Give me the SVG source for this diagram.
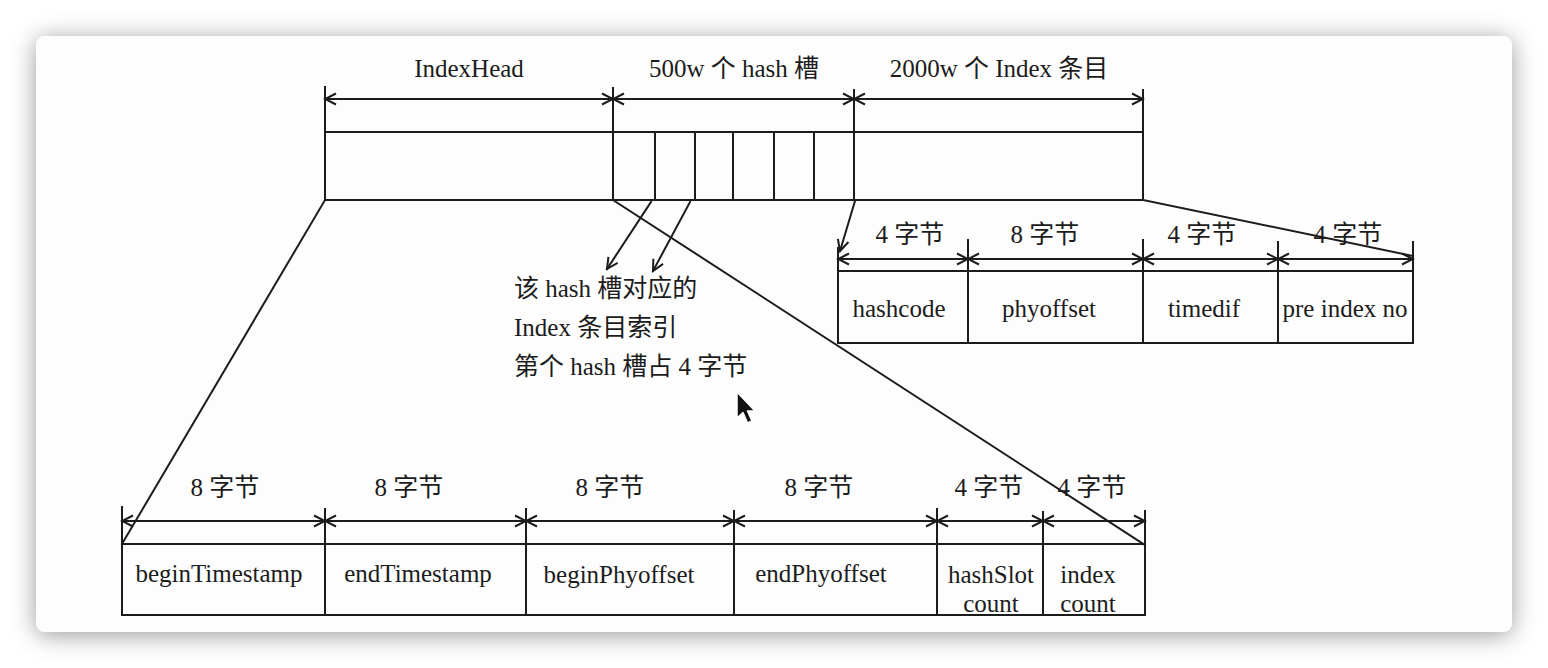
<svg xmlns="http://www.w3.org/2000/svg" width="1548" height="668" viewBox="0 0 1548 668">
<style>
.ln{stroke:#1c1c1c;stroke-width:2;fill:none;stroke-linecap:square}
.dm{stroke:#1c1c1c;stroke-width:2;fill:none;marker-start:url(#ah);marker-end:url(#ah)}
.t{font-family:"Liberation Serif","Noto Sans CJK SC",serif;font-size:25px;fill:#1c1c1c}
.c{text-anchor:middle}
</style>
<defs>
<filter id="sh" x="-5%" y="-10%" width="110%" height="120%">
<feDropShadow dx="0" dy="3" stdDeviation="12" flood-color="#000" flood-opacity="0.4"/>
</filter>
<marker id="ah" viewBox="-13 -7 15 14" refX="0" refY="0" markerWidth="15" markerHeight="14" orient="auto-start-reverse" markerUnits="userSpaceOnUse">
<path d="M-11,-5.5 L0,0 L-11,5.5" fill="none" stroke="#1c1c1c" stroke-width="2"/>
</marker>
</defs>
<rect width="1548" height="668" fill="#ffffff"/>
<rect x="36" y="36" width="1476" height="596" rx="9" fill="#fdfdfd" filter="url(#sh)"/>

<g id="index-file">
<path class="ln" d="M325,87 V200 H1143 V90 M325,132 H1143 M613,88 V200 M655,132 V200 M695,132 V200 M733,132 V200 M774,132 V200 M814,132 V200 M854,90 V200"/>
<text class="t c" x="469" y="77">IndexHead</text>
<text class="t c" x="734" y="77">500w 个 hash 槽</text>
<text class="t c" x="999" y="77">2000w 个 Index 条目</text>
</g>

<g id="index-entry">
<path class="ln" d="M838,248 V343 H1413 V242 M838,271 H1413 M968,240 V343 M1143,240 V343 M1278,242 V343"/>
<text class="t c" x="910" y="243">4 字节</text>
<text class="t c" x="1045" y="243">8 字节</text>
<text class="t c" x="1202" y="243">4 字节</text>
<text class="t c" x="1348" y="243">4 字节</text>
<text class="t c" x="899" y="317">hashcode</text>
<text class="t c" x="1049" y="317">phyoffset</text>
<text class="t c" x="1204" y="317">timedif</text>
<text class="t c" x="1345" y="317">pre index no</text>
</g>

<g id="index-header">
<path class="ln" d="M122,507 V615 H1145 V511 M122,544 H1145 M325,509 V615 M526,509 V615 M734,511 V615 M937,509 V615 M1043,512 V615"/>
<text class="t c" x="225" y="496">8 字节</text>
<text class="t c" x="409" y="496">8 字节</text>
<text class="t c" x="610" y="496">8 字节</text>
<text class="t c" x="819" y="496">8 字节</text>
<text class="t c" x="989" y="496">4 字节</text>
<text class="t c" x="1092" y="496">4 字节</text>
<text class="t c" x="219" y="582">beginTimestamp</text>
<text class="t c" x="418" y="582">endTimestamp</text>
<text class="t c" x="619" y="583">beginPhyoffset</text>
<text class="t c" x="821" y="582">endPhyoffset</text>
<text class="t c" x="991" y="583">hashSlot</text>
<text class="t c" x="991" y="612">count</text>
<text class="t c" x="1088" y="583">index</text>
<text class="t c" x="1088" y="612">count</text>
</g>

<g id="hash-note">
<text class="t" x="514" y="297">该 hash 槽对应的</text>
<text class="t" x="514" y="336">Index 条目索引</text>
<text class="t" x="514" y="375">第个 hash 槽占 4 字节</text>
</g>

<g id="dimensions">
<line class="dm" x1="325" y1="99" x2="613" y2="99"/>
<line class="dm" x1="613" y1="99" x2="854" y2="99"/>
<line class="dm" x1="854" y1="99" x2="1143" y2="99"/>
<line class="dm" x1="838" y1="259" x2="968" y2="259"/>
<line class="dm" x1="968" y1="259" x2="1143" y2="259"/>
<line class="dm" x1="1143" y1="259" x2="1278" y2="259"/>
<line class="dm" x1="1278" y1="259" x2="1413" y2="259"/>
<line class="dm" x1="122" y1="521" x2="325" y2="521"/>
<line class="dm" x1="325" y1="521" x2="526" y2="521"/>
<line class="dm" x1="526" y1="521" x2="734" y2="521"/>
<line class="dm" x1="734" y1="521" x2="937" y2="521"/>
<line class="dm" x1="937" y1="521" x2="1043" y2="521"/>
<line class="dm" x1="1043" y1="521" x2="1145" y2="521"/>
</g>

<g id="connectors">
<line class="ln" x1="325" y1="200" x2="122" y2="544"/>
<line class="ln" x1="613" y1="200" x2="1145" y2="545"/>
<line class="ln" x1="1143" y1="200" x2="1413" y2="256"/>
<line class="ln" x1="651" y1="202" x2="607" y2="269" marker-end="url(#ah)"/>
<line class="ln" x1="690" y1="202" x2="653" y2="271" marker-end="url(#ah)"/>
<line class="ln" x1="855" y1="201" x2="840" y2="251" marker-end="url(#ah)"/>
</g>

<g id="cursor">
<path d="M737,392 V418 L743,412.5 L747.5,423 L752,421 L747.5,411 L755,411 Z" fill="#111" stroke="#fff" stroke-width="1.5" stroke-linejoin="round"/>
</g>
</svg>
